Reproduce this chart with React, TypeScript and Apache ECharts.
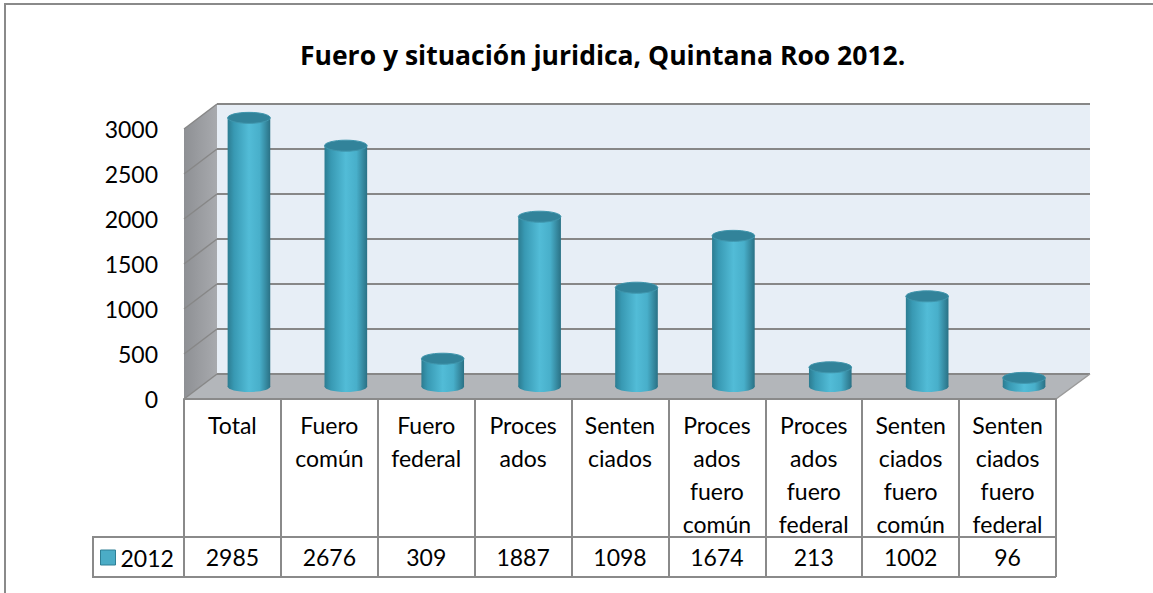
import React, { useEffect, useRef } from "react";
import * as echarts from "echarts";

const TITLE = "Fuero y situación juridica, Quintana Roo 2012.";
const categories = [
  "Total",
  "Fuero\ncomún",
  "Fuero\nfederal",
  "Proces\nados",
  "Senten\nciados",
  "Proces\nados\nfuero\ncomún",
  "Proces\nados\nfuero\nfederal",
  "Senten\nciados\nfuero\ncomún",
  "Senten\nciados\nfuero\nfederal",
];
const seriesName = "2012";
const values2012 = [2985, 2676, 309, 1887, 1098, 1674, 213, 1002, 96];
const yTicks = [0, 500, 1000, 1500, 2000, 2500, 3000];
const Y_MAX = 3000;
const Y_STEP = 500;

// layout (pixels)
const FL = 184; // front plane left
const FT = 129; // front plane top
const PW = 872; // plot width
const PH = 270; // plot height
const DX = 33; // depth x
const DY = 25; // depth y
const FB = FT + PH; // front bottom 399
const FONT = "Lato, 'Open Sans', sans-serif";
const TITLE_FONT = "'Open Sans', Lato, sans-serif";
const GRID_COLOR = "#878787";

export default function App() {
  const ref = useRef<HTMLDivElement>(null);
  useEffect(() => {
    if (!ref.current) return;
    const chart = echarts.init(ref.current, null, { renderer: "svg" });

    const sideLines = yTicks.map((t) => {
      const yf = FT + PH * (1 - t / Y_MAX);
      return {
        type: "line",
        z: 2,
        shape: { x1: FL, y1: yf, x2: FL + DX, y2: yf - DY },
        style: { stroke: GRID_COLOR, lineWidth: 1.5 },
      };
    });

    const option: any = {
      animation: false,
      title: {
        text: TITLE,
        left: 300,
        top: 41,
        padding: 0,
        textStyle: { fontFamily: TITLE_FONT, fontSize: 26.5, fontWeight: "bold", color: "#000" },
      },
      grid: [
        {
          left: FL + DX,
          top: FT - DY,
          width: PW + 1,
          height: PH,
          show: true,
          backgroundColor: "#e7eef6",
          borderWidth: 0,
        },
        { left: FL, top: FT, width: PW, height: PH },
      ],
      xAxis: [
        { gridIndex: 0, type: "category", data: categories, show: false },
        {
          gridIndex: 1,
          type: "category",
          data: categories,
          position: "bottom",
          z: 3,
          axisLine: { onZero: false, lineStyle: { color: "#8a8a8a", width: 2 } },
          axisTick: { show: true, interval: 0, length: 178, lineStyle: { color: "#8a8a8a", width: 2 } },
          axisLabel: {
            interval: 0,
            margin: 9,
            color: "#000",
            fontSize: 23,
            lineHeight: 33,
            fontFamily: FONT,
          },
        },
        {
          gridIndex: 1,
          type: "category",
          data: values2012.map((v) => String(v)),
          position: "bottom",
          offset: 138,
          z: 3,
          axisLine: { onZero: false, lineStyle: { color: "#8a8a8a", width: 2 } },
          axisTick: { show: false },
          axisLabel: {
            interval: 0,
            margin: 8,
            color: "#000",
            fontSize: 23,
            lineHeight: 24,
            fontFamily: FONT,
          },
        },
      ],
      yAxis: [
        {
          gridIndex: 0,
          type: "value",
          min: 0,
          max: Y_MAX,
          interval: Y_STEP,
          axisLabel: { show: false },
          axisLine: { show: false },
          axisTick: { show: false },
          splitLine: { show: true, lineStyle: { color: GRID_COLOR, width: 2 } },
        },
        {
          gridIndex: 1,
          type: "value",
          min: 0,
          max: Y_MAX,
          interval: Y_STEP,
          axisLabel: {
            margin: 26,
            color: "#000",
            fontSize: 23,
            fontFamily: FONT,
            formatter: (v: number) => String(v),
          },
          axisLine: { show: false },
          axisTick: { show: false },
          splitLine: { show: false },
        },
      ],
      legend: {
        data: [seriesName],
        left: 100,
        top: 546,
        padding: 0,
        icon: "rect",
        itemWidth: 15,
        itemHeight: 15,
        itemGap: 5,
        itemStyle: { borderColor: "#2f7f95", borderWidth: 1 },
        textStyle: { fontFamily: FONT, fontSize: 23, color: "#000", padding: [0, 0, 0, 0] },
      },
      series: [
        {
          type: "custom",
          name: seriesName,
          xAxisIndex: 1,
          yAxisIndex: 1,
          z: 5,
          itemStyle: { color: "#4bacc6" },
          data: values2012.map((v, i) => [i, v]),
          renderItem: (params: any, api: any) => {
            const idx = api.value(0);
            const base = api.coord([idx, 0]);
            const top = api.coord([idx, api.value(1)]);
            const w = api.size([1, 0])[0] * 0.44;
            const cx = base[0] + DX / 2;
            const by = base[1] - DY / 2;
            const ty = top[1] - DY / 2;
            const ry = 5.5;
            const grad = new echarts.graphic.LinearGradient(0, 0, 1, 0, [
              { offset: 0, color: "#2c7c91" },
              { offset: 0.15, color: "#3899b3" },
              { offset: 0.5, color: "#52bcd7" },
              { offset: 0.75, color: "#48afca" },
              { offset: 1, color: "#2a7185" },
            ]);
            return {
              type: "group",
              children: [
                {
                  type: "ellipse",
                  shape: { cx, cy: by, rx: w / 2, ry },
                  style: { fill: grad },
                },
                {
                  type: "rect",
                  shape: { x: cx - w / 2, y: ty, width: w, height: Math.max(0, by - ty) },
                  style: { fill: grad },
                },
                {
                  type: "ellipse",
                  shape: { cx, cy: ty, rx: w / 2, ry },
                  style: { fill: "#32839a", stroke: "#4096ad", lineWidth: 1 },
                },
              ],
            };
          },
        },
      ],
      graphic: [
        {
          type: "rect",
          z: 0,
          shape: { x: 5, y: 4, width: 1300, height: 800 },
          style: { fill: "none", stroke: "#8a8a8a", lineWidth: 2 },
        },
        {
          type: "polygon",
          z: 1,
          shape: {
            points: [
              [FL, FT],
              [FL + DX, FT - DY],
              [FL + DX, FB - DY],
              [FL, FB],
            ],
          },
          style: {
            fill: new echarts.graphic.LinearGradient(0, 0, 1, 0, [
              { offset: 0, color: "#8e9094" },
              { offset: 1, color: "#a8aaae" },
            ]),
          },
        },
        {
          type: "polygon",
          z: 1,
          shape: {
            points: [
              [FL, FB],
              [FL + DX, FB - DY],
              [FL + PW + DX + 1, FB - DY],
              [FL + PW, FB],
            ],
          },
          style: { fill: "#b3b6ba" },
        },
        ...sideLines,
        {
          type: "line",
          z: 2,
          shape: { x1: FL + DX, y1: FB - DY, x2: FL + PW + DX + 1, y2: FB - DY },
          style: { stroke: GRID_COLOR, lineWidth: 2 },
        },
        {
          type: "line",
          z: 2,
          shape: { x1: FL + PW, y1: FB, x2: FL + PW + DX + 1, y2: FB - DY },
          style: { stroke: "#9a9a9a", lineWidth: 1.5 },
        },
        {
          type: "polyline",
          z: 3,
          shape: {
            points: [
              [FL, FB + 138],
              [93, FB + 138],
              [93, 577],
              [FL + PW, 577],
            ],
          },
          style: { fill: "none", stroke: "#8a8a8a", lineWidth: 2 },
        },
      ],
    };
    chart.setOption(option);
    return () => chart.dispose();
  }, []);
  return (
    <div
      ref={ref}
      style={{ position: "fixed", left: 0, top: 0, width: 1153, height: 593, background: "#fff" }}
    />
  );
}
